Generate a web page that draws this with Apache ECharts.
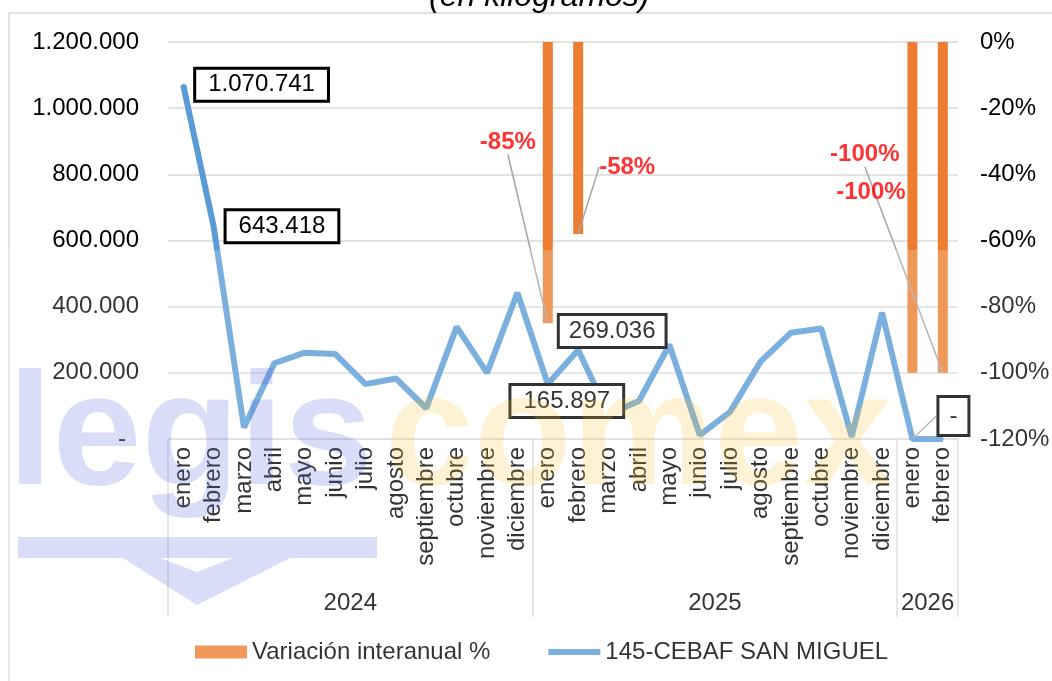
<!DOCTYPE html>
<html><head><meta charset="utf-8">
<script src="https://cdn.jsdelivr.net/npm/echarts@6/dist/echarts.min.js"></script>
<style>html,body{margin:0;padding:0;background:#fff}#c{width:1052px;height:681px}</style>
</head><body><div id="c"></div>
<script>
// ---------- DATA ----------
const categories = ['enero','febrero','marzo','abril','mayo','junio','julio','agosto','septiembre','octubre','noviembre','diciembre',
                    'enero','febrero','marzo','abril','mayo','junio','julio','agosto','septiembre','octubre','noviembre','diciembre',
                    'enero','febrero'];
const years = ['2024','2025','2026'];
const yearSizes = [12, 12, 2];
const kilos = [1070741, 643418, 35000, 229000, 261000, 257000, 166000, 183000, 93000, 339000, 200000, 442000,
               165897, 269036, 75000, 115000, 285000, 12000, 82000, 234000, 321000, 334000, 7000, 382000,
               0, 0];
const variacion = [null,null,null,null,null,null,null,null,null,null,null,null,
                   -0.85, -0.58, null,null,null,null,null,null,null,null,null,null,
                   -1.00, -1.00];
const seriesNames = ['Variación interanual %', '145-CEBAF SAN MIGUEL'];
const chartTitle = '(en kilogramos)';
const watermark = ['legis', 'comex'];

// ---------- HELPERS ----------
const FONT = '"Liberation Sans", Arial, sans-serif';
const LINE_W = 6;
function fmtNum(v){ if (v === 0) return '-'; return String(Math.round(v)).replace(/\B(?=(\d{3})+(?!\d))/g, '.'); }
function fmtPct(v){ return Math.round(v * 100) + '%'; }
const bounds = [0]; yearSizes.forEach(s => bounds.push(bounds[bounds.length - 1] + s));
const yearCenters = yearSizes.map((s, i) => bounds[i] + s / 2);

// label styling / placement (kept apart from the data)
const guide = {show: true, lineStyle: {color: '#A6A6A6', width: 1.5}};
const boxLabel = {show: true, backgroundColor: '#fff', borderColor: '#000', borderWidth: 3, padding: [3, 12],
  fontSize: 24, color: '#000', fontFamily: FONT, formatter: p => fmtNum(p.value)};
const lineLabelPlacement = {
  0: {position: 'right', distance: 12},
  1: {position: 'right', distance: 12},
  12: {position: [20, 18], align: 'center', verticalAlign: 'middle'},
  13: {position: [35, -18], align: 'center', verticalAlign: 'middle', padding: [3, 9]},
  24: {position: 'inside', padding: [6, 10]}
};
const lineMoves = {24: {dx: 41, dy: -23}};
const pctPlacement = {24: {position: [-41, -180], align: 'center', verticalAlign: 'middle'}};
const pctMoves = {12: {dx: -40, dy: -181}, 13: {dx: 49, dy: -67}, 25: {dx: -78, dy: -218}};

const lineData = kilos.map((v, i) => lineLabelPlacement[i]
  ? Object.assign({value: v, label: Object.assign({}, boxLabel, lineLabelPlacement[i])},
                  lineMoves[i] ? {labelLine: guide} : {})
  : v);
const pctData = variacion.map((v, i) => v === null ? null
  : Object.assign({value: v}, pctPlacement[i] ? {label: pctPlacement[i]} : {},
                  pctMoves[i] ? {labelLine: guide} : {}));

const chart = echarts.init(document.getElementById('c'), null, {renderer: 'canvas'});
chart.setOption({
  animation: false,
  backgroundColor: '#fff',
  title: {text: chartTitle, left: 429, top: -19, padding: 0,
    textStyle: {fontSize: 32, fontStyle: 'italic', fontWeight: 'normal', color: '#000', fontFamily: FONT}},
  legend: {left: 195, top: 640, padding: 0, itemWidth: 52, itemHeight: 13, itemGap: 55,
    textStyle: {fontSize: 24, color: '#000', fontFamily: FONT},
    data: [{name: seriesNames[0], icon: 'rect'},
           {name: seriesNames[1], itemStyle: {opacity: 0}, lineStyle: {width: LINE_W}}]},
  grid: {left: 168, right: 94, top: 42, bottom: 242, containLabel: false, outerBoundsMode: 'none'},
  xAxis: [
    {type: 'category', data: categories, boundaryGap: true, position: 'bottom',
     axisLine: {show: true, lineStyle: {color: '#D9D9D9', width: 1.5}},
     axisTick: {show: true, interval: i => bounds.indexOf(i) >= 0, length: 178,
       lineStyle: {color: '#D9D9D9', width: 1.5}},
     axisLabel: {rotate: 90, interval: 0, margin: 8, fontSize: 24, color: '#000', fontFamily: FONT}},
    {type: 'value', min: bounds[0], max: bounds[bounds.length - 1], position: 'bottom',
     axisLine: {show: false}, splitLine: {show: false}, axisTick: {show: false},
     axisLabel: {customValues: yearCenters, formatter: v => years[yearCenters.indexOf(v)] || '',
       margin: 152, fontSize: 24, color: '#000', fontFamily: FONT}}
  ],
  yAxis: [
    {type: 'value', min: 0, max: 1200000, interval: 200000, position: 'left',
     axisLine: {show: false}, axisTick: {show: false},
     splitLine: {show: true, lineStyle: {color: '#D9D9D9', width: 1.5}},
     axisLabel: {margin: 29, fontSize: 24, color: '#000', fontFamily: FONT,
       formatter: v => v === 0 ? '{d|-}' : fmtNum(v),
       rich: {d: {fontSize: 24, color: '#000', fontFamily: FONT, padding: [0, 13, 0, 0]}}}},
    {type: 'value', min: -1.2, max: 0, interval: 0.2, position: 'right',
     axisLine: {show: false}, axisTick: {show: false}, splitLine: {show: false},
     axisLabel: {margin: 22, fontSize: 24, color: '#000', fontFamily: FONT, formatter: fmtPct}}
  ],
  series: [
    {name: seriesNames[0], type: 'bar', xAxisIndex: 0, yAxisIndex: 1, data: variacion, barWidth: 10,
     itemStyle: {color: '#ED7D31'}, z: 2},
    {name: seriesNames[1], type: 'line', xAxisIndex: 0, yAxisIndex: 0, data: lineData,
     color: '#5B9BD5',
     symbol: 'circle', symbolSize: 2, showSymbol: true,
     lineStyle: {width: LINE_W, color: '#5B9BD5', opacity: 1},
     label: {show: false},
     labelLayout: p => lineMoves[p.dataIndex] ? {dx: lineMoves[p.dataIndex].dx, dy: lineMoves[p.dataIndex].dy} : null,
     z: 3},
    {name: '_pct', type: 'scatter', xAxisIndex: 0, yAxisIndex: 1, data: pctData,
     symbol: 'circle', symbolSize: 1, itemStyle: {color: 'rgba(0,0,0,0)'},
     label: {show: true, position: 'inside', formatter: p => fmtPct(p.value), color: '#FF0000',
       fontWeight: 'bold', fontSize: 24, fontFamily: FONT},
     labelLayout: p => pctMoves[p.dataIndex] ? {dx: pctMoves[p.dataIndex].dx, dy: pctMoves[p.dataIndex].dy} : null,
     labelLine: {show: false},
     z: 4}
  ],
  graphic: [
    {type: 'polyline', silent: true, z: 0, shape: {points: [[9, 681], [9, 13], [1052, 13]]},
     style: {stroke: '#D9D9D9', lineWidth: 1.5, fill: null}},
    {type: 'rect', silent: true, z: 100, shape: {x: 0, y: 250, width: 1052, height: 431},
     style: {fill: 'rgba(255,255,255,0.2)'}},
    {type: 'text', silent: true, z: 101, x: 8, y: 440,
     style: {text: watermark[0], font: 'bold 160px "Liberation Sans", Arial, sans-serif',
       fill: 'rgba(80,100,220,0.22)', verticalAlign: 'middle', align: 'left'}},
    {type: 'text', silent: true, z: 101, x: 385, y: 440,
     style: {text: watermark[1], font: 'bold 160px "Liberation Sans", Arial, sans-serif',
       fill: 'rgba(250,190,40,0.2)', verticalAlign: 'middle', align: 'left'}},
    {type: 'polygon', silent: true, z: 101,
     shape: {points: [[18, 537], [377, 537], [377, 558], [18, 558]]},
     style: {fill: 'rgba(80,100,220,0.22)'}},
    {type: 'polygon', silent: true, z: 101,
     shape: {points: [[123, 558], [197, 605], [290, 558], [233, 558], [197, 572], [160, 558]]},
     style: {fill: 'rgba(80,100,220,0.22)'}}
  ]
});
</script></body></html>
